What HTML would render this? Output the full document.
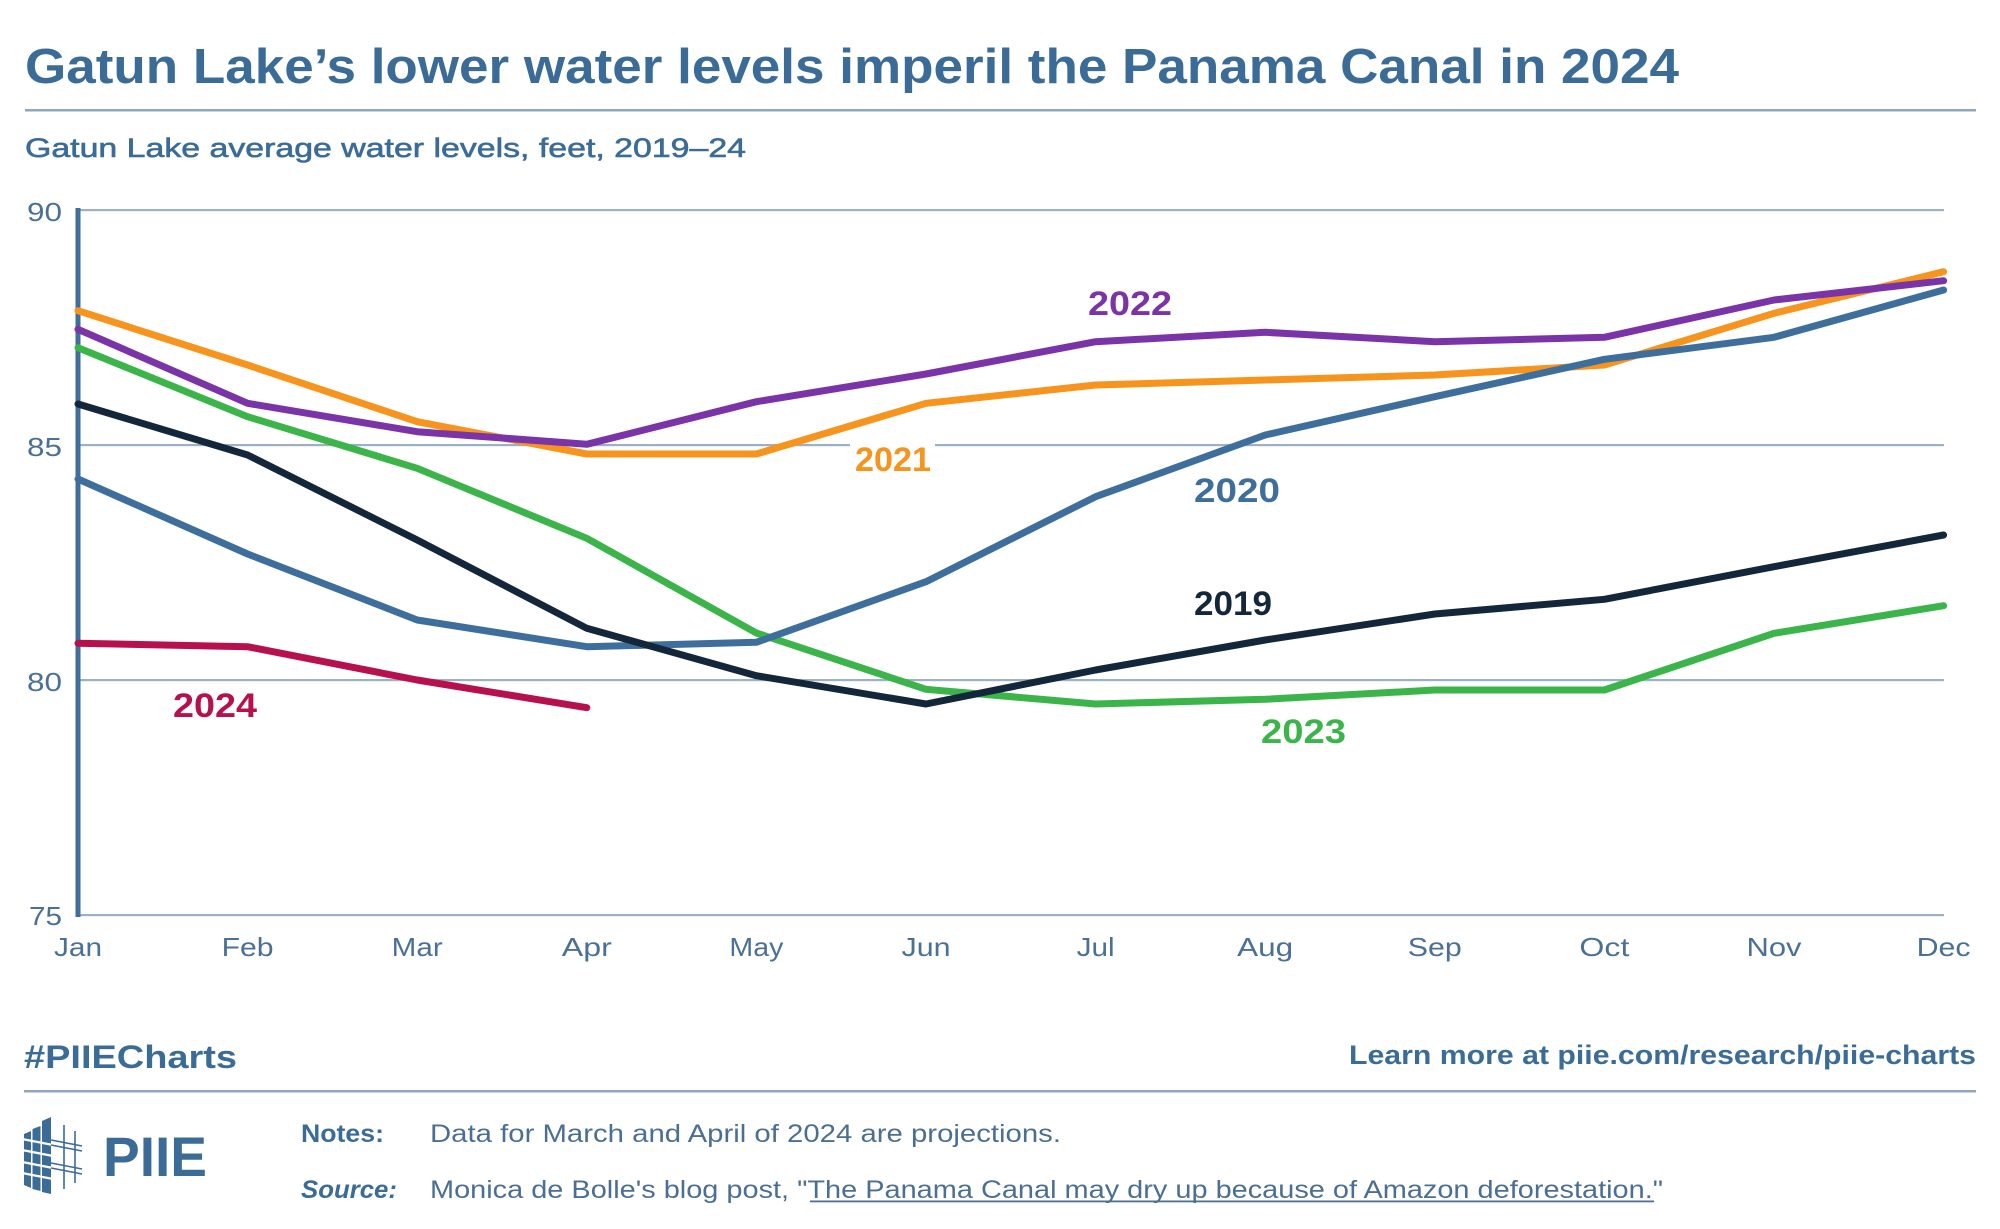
<!DOCTYPE html>
<html>
<head>
<meta charset="utf-8">
<style>
  html,body{margin:0;padding:0;background:#ffffff;}
  body{width:2000px;height:1229px;overflow:hidden;}
  svg{display:block;}
  text{font-family:"Liberation Sans", Arial, sans-serif;}
</style>
</head>
<body>
<svg width="2000" height="1229" viewBox="0 0 2000 1229" xmlns="http://www.w3.org/2000/svg">
  <rect x="0" y="0" width="2000" height="1229" fill="#ffffff"/>

  <!-- Title -->
  <text x="25" y="83" font-size="49" font-weight="bold" fill="#3b6c98" textLength="1654" lengthAdjust="spacingAndGlyphs">Gatun Lake’s lower water levels imperil the Panama Canal in 2024</text>
  <rect x="25" y="109" width="1951" height="2.5" fill="#8ea7be"/>

  <!-- Subtitle -->
  <text x="25" y="157" font-size="27" fill="#3b6c98" stroke="#3b6c98" stroke-width="0.6" textLength="721" lengthAdjust="spacingAndGlyphs">Gatun Lake average water levels, feet, 2019–24</text>

  <!-- Gridlines -->
  <g fill="#9cb1c6">
    <rect x="78" y="209" width="1866" height="2.2"/>
    <rect x="78" y="444" width="1866" height="2.2"/>
    <rect x="78" y="679" width="1866" height="2.2"/>
    <rect x="78" y="914" width="1866" height="2.2"/>
  </g>
  <!-- gap behind 2021 label -->
  <rect x="850" y="440" width="85" height="10" fill="#ffffff"/>

  <!-- Y axis -->
  <rect x="75.5" y="208" width="5" height="709" fill="#3e6e99"/>

  <!-- Y tick labels -->
  <g font-size="26" fill="#4b7096" text-anchor="end">
    <text x="62" y="221" textLength="35" lengthAdjust="spacingAndGlyphs">90</text>
    <text x="62" y="456" textLength="35" lengthAdjust="spacingAndGlyphs">85</text>
    <text x="62" y="691" textLength="35" lengthAdjust="spacingAndGlyphs">80</text>
    <text x="62" y="925" textLength="33" lengthAdjust="spacingAndGlyphs">75</text>
  </g>

  <!-- X tick labels -->
  <g font-size="26" fill="#4b7096" text-anchor="middle">
    <text x="78" y="956" textLength="48" lengthAdjust="spacingAndGlyphs">Jan</text>
    <text x="247.6" y="956" textLength="52" lengthAdjust="spacingAndGlyphs">Feb</text>
    <text x="417.2" y="956" textLength="51" lengthAdjust="spacingAndGlyphs">Mar</text>
    <text x="586.8" y="956" textLength="50" lengthAdjust="spacingAndGlyphs">Apr</text>
    <text x="756.4" y="956" textLength="54" lengthAdjust="spacingAndGlyphs">May</text>
    <text x="926" y="956" textLength="49" lengthAdjust="spacingAndGlyphs">Jun</text>
    <text x="1095.6" y="956" textLength="38" lengthAdjust="spacingAndGlyphs">Jul</text>
    <text x="1265.2" y="956" textLength="56" lengthAdjust="spacingAndGlyphs">Aug</text>
    <text x="1434.8" y="956" textLength="54" lengthAdjust="spacingAndGlyphs">Sep</text>
    <text x="1604.4" y="956" textLength="50" lengthAdjust="spacingAndGlyphs">Oct</text>
    <text x="1774" y="956" textLength="55" lengthAdjust="spacingAndGlyphs">Nov</text>
    <text x="1943.6" y="956" textLength="54" lengthAdjust="spacingAndGlyphs">Dec</text>
  </g>

  <!-- Series -->
  <g fill="none" stroke-width="7" stroke-linejoin="round" stroke-linecap="round">
    <polyline stroke="#3bb54a" points="78,347.7 247.6,416.7 417.2,468.3 586.8,538.3 756.4,633 926,689.3 1095.6,704 1265.2,699.3 1434.8,690 1604.4,690 1774,633.3 1943.6,605.7"/>
    <polyline stroke="#f7941d" points="78,310.7 247.6,365 417.2,421.7 586.8,454 756.4,454 926,403.3 1095.6,385 1265.2,380 1434.8,375 1604.4,365 1774,313.3 1943.6,271.7"/>
    <polyline stroke="#7b33a8" points="78,329.3 247.6,403.3 417.2,431.7 586.8,444.3 756.4,401.7 926,374 1095.6,341.7 1265.2,332.3 1434.8,341.7 1604.4,337.3 1774,300 1943.6,280.7"/>
    <polyline stroke="#3e6f9c" points="78,479 247.6,554 417.2,620 586.8,646.7 756.4,642.3 926,581.7 1095.6,496.7 1265.2,435 1434.8,396.7 1604.4,359.3 1774,337.3 1943.6,290"/>
    <polyline stroke="#14273a" points="78,404 247.6,455 417.2,540 586.8,628.3 756.4,675.7 926,704 1095.6,670 1265.2,640 1434.8,614 1604.4,599.3 1774,566.7 1943.6,535"/>
    <polyline stroke="#b7104f" points="78,643.3 247.6,646.7 417.2,680 586.8,707.7"/>
  </g>

  <!-- Series labels -->
  <g font-size="34" font-weight="bold">
    <text x="1088" y="315" fill="#7b33a8" textLength="84" lengthAdjust="spacingAndGlyphs">2022</text>
    <text x="855" y="471" fill="#f7941d" textLength="76" lengthAdjust="spacingAndGlyphs">2021</text>
    <text x="1194" y="502" fill="#3e6f9c" textLength="86" lengthAdjust="spacingAndGlyphs">2020</text>
    <text x="1194" y="615" fill="#14273a" textLength="78" lengthAdjust="spacingAndGlyphs">2019</text>
    <text x="1261" y="743" fill="#3bb54a" textLength="85" lengthAdjust="spacingAndGlyphs">2023</text>
    <text x="173" y="717" fill="#b7104f" textLength="84" lengthAdjust="spacingAndGlyphs">2024</text>
  </g>

  <!-- Footer -->
  <text x="24" y="1068" font-size="32" font-weight="bold" fill="#3b6c98" textLength="213" lengthAdjust="spacingAndGlyphs">#PIIECharts</text>
  <text x="1976" y="1064" font-size="27" font-weight="bold" fill="#3b6c98" text-anchor="end" textLength="627" lengthAdjust="spacingAndGlyphs">Learn more at piie.com/research/piie-charts</text>
  <rect x="24" y="1090" width="1952" height="2.5" fill="#8ea7be"/>

  <!-- Logo icon -->
  <g>
    <polygon points="24,1134 31,1131 31,1188 24,1185" fill="#3b6c98"/>
    <polygon points="32.5,1129 40.5,1126 40.5,1191 32.5,1189" fill="#3b6c98"/>
    <polygon points="42,1121 51,1117 51,1194 42,1192" fill="#3b6c98"/>
    <g stroke="#ffffff" stroke-width="2.2">
      <line x1="22" y1="1139" x2="53" y2="1145"/>
      <line x1="22" y1="1150" x2="53" y2="1156"/>
      <line x1="22" y1="1162" x2="53" y2="1168"/>
      <line x1="22" y1="1173" x2="53" y2="1179"/>
    </g>
    <g stroke="#3b6c98" stroke-width="1.6">
      <line x1="64" y1="1125" x2="64" y2="1189"/>
      <line x1="75" y1="1131" x2="75" y2="1183"/>
      <line x1="51" y1="1140" x2="82" y2="1146"/>
      <line x1="51" y1="1145" x2="82" y2="1151"/>
      <line x1="51" y1="1163" x2="82" y2="1169"/>
      <line x1="51" y1="1168" x2="82" y2="1174"/>
    </g>
  </g>
  <text x="103" y="1176" font-size="56" font-weight="bold" fill="#3b6c98" textLength="104" lengthAdjust="spacingAndGlyphs">PIIE</text>

  <!-- Notes & Source -->
  <text x="301" y="1142" font-size="25" font-weight="bold" fill="#3b6c98" textLength="83" lengthAdjust="spacingAndGlyphs">Notes:</text>
  <text x="430" y="1142" font-size="25" fill="#4b6f93" textLength="631" lengthAdjust="spacingAndGlyphs">Data for March and April of 2024 are projections.</text>
  <text x="301" y="1198" font-size="25" font-weight="bold" font-style="italic" fill="#3b6c98" textLength="96" lengthAdjust="spacingAndGlyphs">Source:</text>
  <text x="430" y="1198" font-size="25" fill="#4b6f93" textLength="1233" lengthAdjust="spacingAndGlyphs">Monica de Bolle's blog post, "The Panama Canal may dry up because of Amazon deforestation."</text>
  <rect x="810" y="1200.5" width="844" height="1.8" fill="#4b6f93"/>
</svg>
</body>
</html>
